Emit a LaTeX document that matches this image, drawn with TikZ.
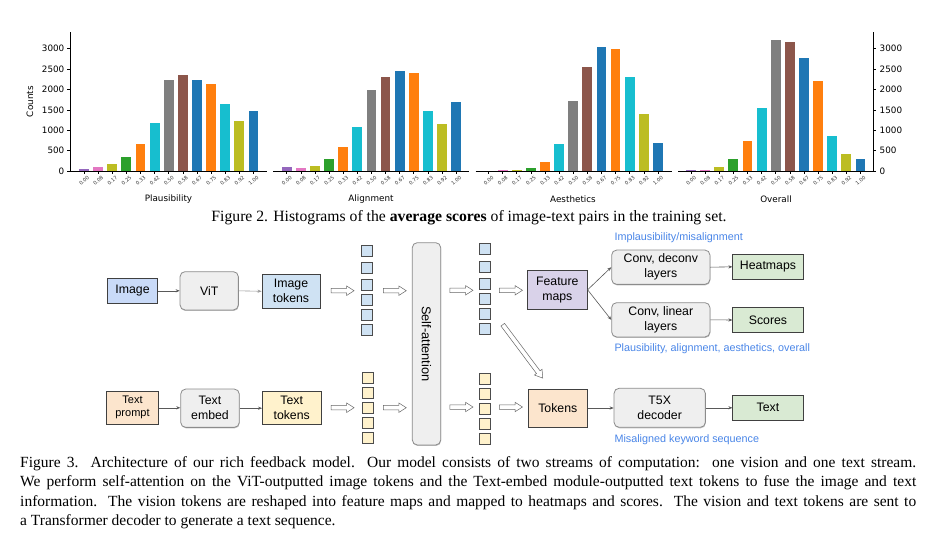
\documentclass[tikz,border=0pt]{standalone}
\usepackage{fontspec}
\setmainfont{Liberation Serif}
\newfontfamily\dfont{Liberation Sans}
\newfontfamily\hfont{DejaVu Sans}
\usetikzlibrary{arrows.meta,shapes.arrows,calc,shadows}
\definecolor{cpurple}{HTML}{9467BD}
\definecolor{cpink}{HTML}{E377C2}
\definecolor{colive}{HTML}{BCBD22}
\definecolor{cgreen}{HTML}{2CA02C}
\definecolor{corange}{HTML}{FF7F0E}
\definecolor{ccyan}{HTML}{17BECF}
\definecolor{cgray}{HTML}{7F7F7F}
\definecolor{cbrown}{HTML}{8C564B}
\definecolor{cblue}{HTML}{1F77B4}
\definecolor{imgblue}{HTML}{C9DAF8}
\definecolor{tokblue}{HTML}{CFE2F3}
\definecolor{peach}{HTML}{FCE5CD}
\definecolor{ylw}{HTML}{FFF2CC}
\definecolor{purp}{HTML}{D9D2E9}
\definecolor{grn}{HTML}{D9EAD3}
\definecolor{boxgray}{HTML}{EFEFEF}
\definecolor{noteblue}{HTML}{4A86E8}
\newcommand\histbars[2]{%
  \foreach \v [count=\i from 0] in {#2} {
    \pgfmathsetmacro\cx{#1+\i*14.12}
    \pgfmathparse{{"cpurple","cpink","colive","cgreen","corange","ccyan","cgray","cbrown","cblue","corange","ccyan","colive","cblue"}[\i]}
    \edef\cc{\pgfmathresult}
    \fill[\cc] ({\cx-4.9},171) rectangle ({\cx+4.9},{171-\v*0.04077});
    \draw[line width=0.6pt] (\cx,171) -- (\cx,173.5);
  }
  \foreach \t [count=\i from 0] in {0.00,0.08,0.17,0.25,0.33,0.42,0.50,0.58,0.67,0.75,0.83,0.92,1.00} {
    \pgfmathsetmacro\cx{#1+\i*14.12}
    \node[rotate=40, anchor=north east, inner sep=0, font=\hfont\fontsize{5}{5.5}\selectfont, text=black!80] at ({\cx+3.2},175.5) {\t};
  }
}
\tikzset{
  sq/.style={draw=black!70, line width=0.5pt, fill=#1, minimum size=11, inner sep=0},
  box/.style={draw=black!75, line width=0.6pt, fill=#1, inner sep=1pt, align=center, font=\dfont\fontsize{12.3}{15}\selectfont},
  rbox/.style={draw=black!45, line width=0.8pt, fill=boxgray, rounded corners=5pt, inner sep=1pt, align=center, font=\dfont\fontsize{12.3}{15}\selectfont, drop shadow={shadow xshift=0.4pt, shadow yshift=-1pt, opacity=0.25, fill=black}},
  conn/.style={draw=black!65, line width=0.6pt, -{Stealth[length=4pt,width=3.2pt]}},
  harrow/.style={single arrow, draw=black!60, fill=white, line width=0.5pt, minimum height=23, inner sep=2, single arrow head extend=2.5, single arrow tip angle=65, anchor=center},
  note/.style={text=noteblue, font=\dfont\fontsize{10.8}{13}\selectfont, anchor=west, inner sep=0},
  tick/.style={font=\hfont\fontsize{8.8}{10}\selectfont, inner sep=0}
}
\begin{document}
\begin{tikzpicture}[x=1pt,y=-1pt]
\useasboundingbox[fill=white] (0,0) rectangle (937,539);
% ---------------- histograms ----------------
\histbars{84}{57,106,180,351,670,1185,2240,2362,2240,2141,1651,1234,1471}
\histbars{286.7}{106,82,130,302,580,1087,1994,2313,2460,2411,1479,1161,1700}
\histbars{488.5}{5,25,20,82,229,670,1725,2559,3049,3000,2313,1406,695}
\histbars{691}{33,33,106,302,744,1553,3220,3171,2779,2215,866,425,302}
\draw[line width=0.8pt] (70,32.3) -- (70,171) -- (266.7,171);
\draw[line width=0.8pt] (273,171) -- (469,171);
\draw[line width=0.8pt] (475.7,171) -- (671.7,171);
\draw[line width=0.8pt] (678,171) -- (873.3,171) -- (873.3,32.3);
\foreach \k in {0,500,1000,1500,2000,2500,3000} {
  \draw[line width=0.6pt] (67,{171-\k*0.04077}) -- (70,{171-\k*0.04077});
  \node[tick, anchor=east] at (64.5,{171-\k*0.04077}) {\k};
  \draw[line width=0.6pt] (873.3,{171-\k*0.04077}) -- (876.3,{171-\k*0.04077});
  \node[tick, anchor=west] at (879.5,{171-\k*0.04077}) {\k};
}
\node[tick, rotate=90] (counts) at (30,101.7) {Counts};
\node[tick] (xl1) at (168.5,199) {Plausibility};
\node[tick] (xl2) at (371,199) {Alignment};
\node[tick] (xl3) at (573,199) {Aesthetics};
\node[tick] (xl4) at (776,199) {Overall};
\node[font=\fontsize{15.7}{19}\selectfont, inner sep=0] (cap2) at (469,217.5) {Figure 2. Histograms of the \textbf{average scores} of image-text pairs in the training set.};
% ---------------- architecture ----------------
\node[box=imgblue, minimum width=50.4, minimum height=25] (image) at (132.5,290.8) {Image};
\node[rbox, minimum width=58.3, minimum height=38.3] (vit) at (209.2,290.8) {ViT};
\node[box=tokblue, minimum width=58.3, minimum height=34] (imgtok) at (291,291.3) {Image\\tokens};
\node[box=peach, minimum width=51.6, minimum height=32.3, font=\dfont\fontsize{11}{13}\selectfont] (prompt) at (132.5,407.8) {Text\\prompt};
\node[rbox, minimum width=58.6, minimum height=38.3] (embed) at (210,408.2) {Text\\embed};
\node[box=ylw, minimum width=58.7, minimum height=32.3] (txttok) at (291.7,407.8) {Text\\tokens};
\node[rbox, minimum width=28.4, minimum height=202.3] (sa) at (426.5,343.8) {};
\node[rotate=-90, font=\dfont\fontsize{12.8}{15}\selectfont, inner sep=0] (satext) at (sa.center) {Self-attention};
\node[box=purp, minimum width=60, minimum height=39] (feat) at (557.3,289.8) {Feature\\maps};
\node[box=peach, minimum width=59, minimum height=38] (tokens) at (557.8,408) {Tokens};
\node[rbox, minimum width=98.3, minimum height=34.3] (convd) at (660.8,267.2) {Conv, deconv\\layers};
\node[rbox, minimum width=98.3, minimum height=34.3] (convl) at (660.8,319.8) {Conv, linear\\layers};
\node[rbox, minimum width=91.3, minimum height=39] (t5x) at (659.7,407.8) {T5X\\decoder};
\node[box=grn, minimum width=70.6, minimum height=25] (heat) at (768,266.8) {Heatmaps};
\node[box=grn, minimum width=70.6, minimum height=24.6] (scores) at (768,320) {Scores};
\node[box=grn, minimum width=70.6, minimum height=24.3] (textout) at (768,407.8) {Text};
% token columns
\foreach \yy [count=\j] in {250.8,267.8,284.7,299.7,314.7,330} {
  \node[sq=tokblue] (ia\j) at (366.5,\yy) {};
}
\foreach \yy [count=\j] in {249.2,267.2,284,299,314.2,329.2} {
  \node[sq=tokblue] (ib\j) at (485,\yy) {};
}
\foreach \yy [count=\j] in {378,393,408,423,437.8} {
  \node[sq=ylw] (ta\j) at (367.5,\yy) {};
}
\foreach \yy [count=\j] in {378.7,393.7,408.7,423.7,438.8} {
  \node[sq=ylw] (tb\j) at (485,\yy) {};
}
% hollow arrows
\node[harrow] (h1) at (340.8,290.7) {};
\node[harrow] (h2) at (393,290.7) {};
\node[harrow] (h3) at (459.7,290.3) {};
\node[harrow] (h4) at (509.2,290.3) {};
\node[harrow] (h5) at (340.8,407.7) {};
\node[harrow] (h6) at (393,407.7) {};
\node[harrow] (h7) at (459.7,407) {};
\node[harrow] (h8) at (509.2,407) {};
\node[harrow, minimum height=66.7, rotate=-53.2] (h9) at (521.7,350) {};
% thin connectors
\draw[conn] (image.east) -- (vit.west);
\draw[conn, draw=black!40] (vit.east) -- (imgtok.west);
\draw[conn] (prompt.east) -- (prompt.east -| embed.west);
\draw[conn] (embed.east) -- (embed.east -| txttok.west);
\draw[conn] (feat.east) -- (convd.west);
\draw[conn] (feat.east) -- (convl.west);
\draw[conn] (convd.east) -- (heat.west);
\draw[conn] (convl.east) -- (scores.west);
\draw[conn] (tokens.east) -- (tokens.east -| t5x.west);
\draw[conn] (t5x.east) -- (t5x.east -| textout.west);
% notes
\node[note] (n1) at (614.3,237.3) {Implausibility/misalignment};
\node[note] (n2) at (614.3,348.3) {Plausibility, alignment, aesthetics, overall};
\node[note] (n3) at (614.3,440) {Misaligned keyword sequence};
% caption 3
\node[anchor=north west, inner sep=0, text width=896, align=justify, font=\fontsize{15.5}{19.2}\selectfont] (cap3) at (20,456.5) {Figure 3.\ \ Architecture of our rich feedback model.\ \ Our model consists of two streams of computation:\ \ one vision and one text stream.\linebreak We perform self-attention on the ViT-outputted image tokens and the Text-embed module-outputted text tokens to fuse the image and text\linebreak information.\ \ The vision tokens are reshaped into feature maps and mapped to heatmaps and scores.\ \ The vision and text tokens are sent to\linebreak a Transformer decoder to generate a text sequence.};
\end{tikzpicture}
\end{document}
